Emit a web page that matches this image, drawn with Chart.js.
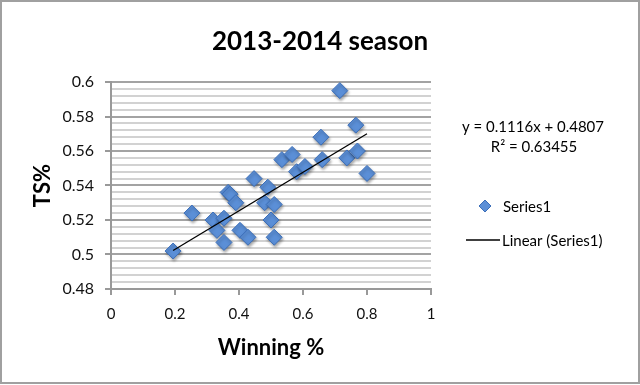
<!DOCTYPE html>
<html>
<head>
<meta charset="utf-8">
<script src="https://cdn.jsdelivr.net/npm/chart.js@4.4.1/dist/chart.umd.min.js"></script>
<style>
  html, body { margin: 0; padding: 0; background: #fff; }
  #wrap { width: 640px; height: 385px; }
</style>
</head>
<body>
<div id="wrap"><canvas id="chart-area" width="640" height="385"></canvas></div>
<script>
  // winning % vs true shooting %, one point per team
  var winPct = [0.194, 0.253, 0.319, 0.353, 0.331, 0.353, 0.403, 0.428, 0.366, 0.372, 0.39, 0.447,
                0.49, 0.48, 0.51, 0.50, 0.51, 0.534, 0.566, 0.58, 0.606, 0.66, 0.656, 0.715,
                0.765, 0.737, 0.77, 0.80];
  var tsPct = [0.502, 0.524, 0.520, 0.521, 0.514, 0.507, 0.514, 0.510, 0.536, 0.535, 0.530, 0.544,
               0.539, 0.530, 0.529, 0.520, 0.510, 0.555, 0.558, 0.548, 0.551, 0.555, 0.568, 0.595,
               0.575, 0.556, 0.560, 0.547];
  var trendSlope = 0.1116;
  var trendIntercept = 0.4807;
  var trendR2 = '0.63455';

  var points = winPct.map(function (x, i) { return {x: x, y: tsPct[i]}; });
  var xMin = Math.min.apply(null, winPct);
  var xMax = Math.max.apply(null, winPct);
  var trendPoints = [
    {x: xMin, y: trendSlope * xMin + trendIntercept},
    {x: xMax, y: trendSlope * xMax + trendIntercept}
  ];

  var font = 'Lato';
  var isMajor = function (v) { return Math.abs(Math.round(v / 0.02) * 0.02 - v) < 1e-6; };

  var shadowPlugin = {
    id: 'shadow',
    beforeDatasetDraw: function (chart, args) {
      if (args.index !== 0) return;
      var ctx = chart.ctx;
      ctx.save();
      ctx.shadowColor = 'rgba(0,0,0,0.35)';
      ctx.shadowBlur = 3;
      ctx.shadowOffsetX = 1;
      ctx.shadowOffsetY = 2;
    },
    afterDatasetDraw: function (chart, args) {
      if (args.index === 0) chart.ctx.restore();
    }
  };

  var extrasPlugin = {
    id: 'extras',
    afterDraw: function (chart) {
      var ctx = chart.ctx;
      ctx.save();
      // frame
      ctx.strokeStyle = '#a0a0a0';
      ctx.lineWidth = 2;
      ctx.strokeRect(1, 1, 638, 382);
      // trendline label
      ctx.fillStyle = '#000';
      ctx.font = '15px ' + font;
      ctx.textAlign = 'center';
      ctx.textBaseline = 'middle';
      ctx.fillText('y = ' + trendSlope + 'x + ' + trendIntercept, 533, 127);
      ctx.fillText('R\u00b2 = ' + trendR2, 534, 147);
      // legend
      var dx = 485, dy = 206, r = 6;
      ctx.fillStyle = '#5b8fd7';
      ctx.strokeStyle = '#3b6eb8';
      ctx.lineWidth = 1;
      ctx.beginPath();
      ctx.moveTo(dx, dy - r); ctx.lineTo(dx + r, dy); ctx.lineTo(dx, dy + r); ctx.lineTo(dx - r, dy);
      ctx.closePath();
      ctx.fill(); ctx.stroke();
      ctx.textAlign = 'left';
      ctx.fillStyle = '#000';
      ctx.fillText('Series1', 503, 207);
      ctx.strokeStyle = '#000';
      ctx.lineWidth = 1.5;
      ctx.beginPath();
      ctx.moveTo(466, 240); ctx.lineTo(500, 240);
      ctx.stroke();
      ctx.fillText('Linear (Series1)', 502, 241);
      ctx.restore();
    }
  };

  var ctx = document.getElementById('chart-area').getContext('2d');
  window.tsChart = new Chart(ctx, {
    type: 'scatter',
    data: {
      datasets: [
        {
          label: 'Series1',
          data: points,
          pointStyle: 'rectRot',
          pointRadius: 8,
          pointHoverRadius: 8,
          backgroundColor: '#5b8fd7',
          borderColor: '#3b6eb8',
          borderWidth: 1,
          order: 1
        },
        {
          label: 'Linear (Series1)',
          data: trendPoints,
          showLine: true,
          pointRadius: 0,
          borderColor: '#000',
          borderWidth: 1.3,
          fill: false,
          order: 0
        }
      ]
    },
    options: {
      responsive: false,
      animation: false,
      layout: { padding: 0 },
      plugins: {
        legend: { display: false },
        tooltip: { enabled: false },
        title: {
          display: true,
          text: '2013-2014 season',
          color: '#000',
          font: { family: font, size: 26, weight: 'bold', lineHeight: 1.2 },
          padding: { top: 26, bottom: 24.8 }
        }
      },
      scales: {
        x: {
          type: 'linear',
          min: 0,
          max: 1,
          afterFit: function (scale) { scale.height = 96; },
          ticks: {
            stepSize: 0.2,
            padding: 10,
            color: '#111',
            font: { family: font, size: 15 },
            callback: function (v) { return parseFloat(v.toFixed(2)).toString(); }
          },
          grid: {
            drawOnChartArea: false,
            drawTicks: true,
            tickLength: 6,
            color: '#999',
            lineWidth: 2
          },
          border: { color: '#999', width: 2 },
          title: {
            display: true,
            text: 'Winning %',
            color: '#000',
            font: { family: font, size: 22, weight: 'bold', lineHeight: 1.2 },
            padding: { top: 0, bottom: 24 }
          }
        },
        y: {
          min: 0.48,
          max: 0.6,
          afterFit: function (scale) { scale.width = 111; },
          ticks: {
            stepSize: 0.004,
            autoSkip: false,
            padding: 11,
            color: '#111',
            font: { family: font, size: 16 },
            callback: function (v) {
              return isMajor(v) ? parseFloat(v.toFixed(3)).toString() : '';
            }
          },
          grid: {
            drawTicks: true,
            tickLength: 6,
            color: function (c) { return isMajor(c.tick.value) ? '#a3a3a3' : '#d2d2d2'; },
            tickColor: function (c) { return isMajor(c.tick.value) ? '#999' : 'rgba(0,0,0,0)'; },
            lineWidth: 2
          },
          border: { color: '#999', width: 2 },
          title: {
            display: true,
            text: 'TS%',
            color: '#000',
            font: { family: font, size: 22, weight: 'bold', lineHeight: 1.2 },
            padding: { top: 30, bottom: 0 }
          }
        },
        // empty right-hand axis that reserves room for the legend
        side: {
          position: 'right',
          min: 0.48,
          max: 0.6,
          afterFit: function (scale) { scale.width = 209; },
          ticks: { display: false },
          grid: { display: false },
          border: { display: false }
        }
      }
    },
    plugins: [shadowPlugin, extrasPlugin]
  });
</script>
</body>
</html>
